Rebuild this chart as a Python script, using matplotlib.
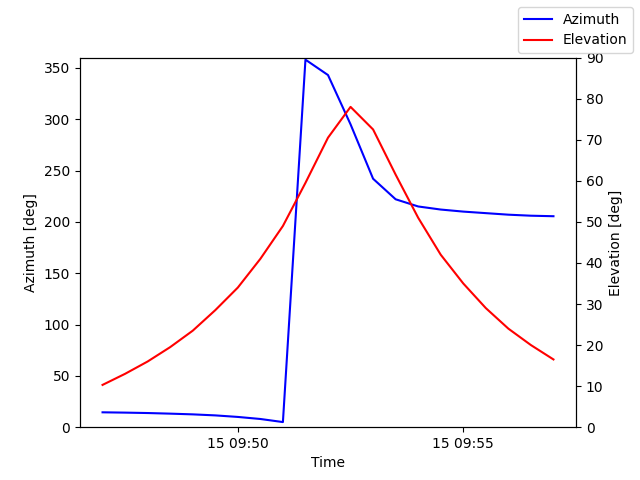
import matplotlib
matplotlib.use("Agg")
import matplotlib.pyplot as plt
import matplotlib.dates as mdates
import numpy as np
import datetime as dt

# samples every 30 s from 09:47:00 to 09:57:00
times = [dt.datetime(2024, 1, 15, 9, 47, 0) + dt.timedelta(seconds=30 * i) for i in range(21)]
azimuth = [14.5, 14.2, 13.8, 13.2, 12.5, 11.5, 10, 8, 5, 358, 343, 295, 242, 222,
           215, 212, 210, 208.5, 207, 206, 205.5]
elevation = [10.3, 13, 16, 19.5, 23.5, 28.5, 34, 41, 49, 59.5, 70.5, 78, 72.5, 61.5,
             51, 42, 35, 29, 24, 20, 16.5]

fig, ax = plt.subplots(figsize=(6.4, 4.8), dpi=100)
ax.plot(times, azimuth, color='blue', label='Azimuth')
ax.set_ylim(0, 360)
ax.set_ylabel('Azimuth [deg]')
ax.set_xlabel('Time')

ax2 = ax.twinx()
ax2.plot(times, elevation, color='red', label='Elevation')
ax2.set_ylim(0, 90)
ax2.set_ylabel('Elevation [deg]')

ax.xaxis.set_major_locator(mdates.MinuteLocator(byminute=[50, 55]))
ax.xaxis.set_major_formatter(mdates.DateFormatter('%d %H:%M'))

fig.legend(loc='upper right')
fig.savefig('out.png')
